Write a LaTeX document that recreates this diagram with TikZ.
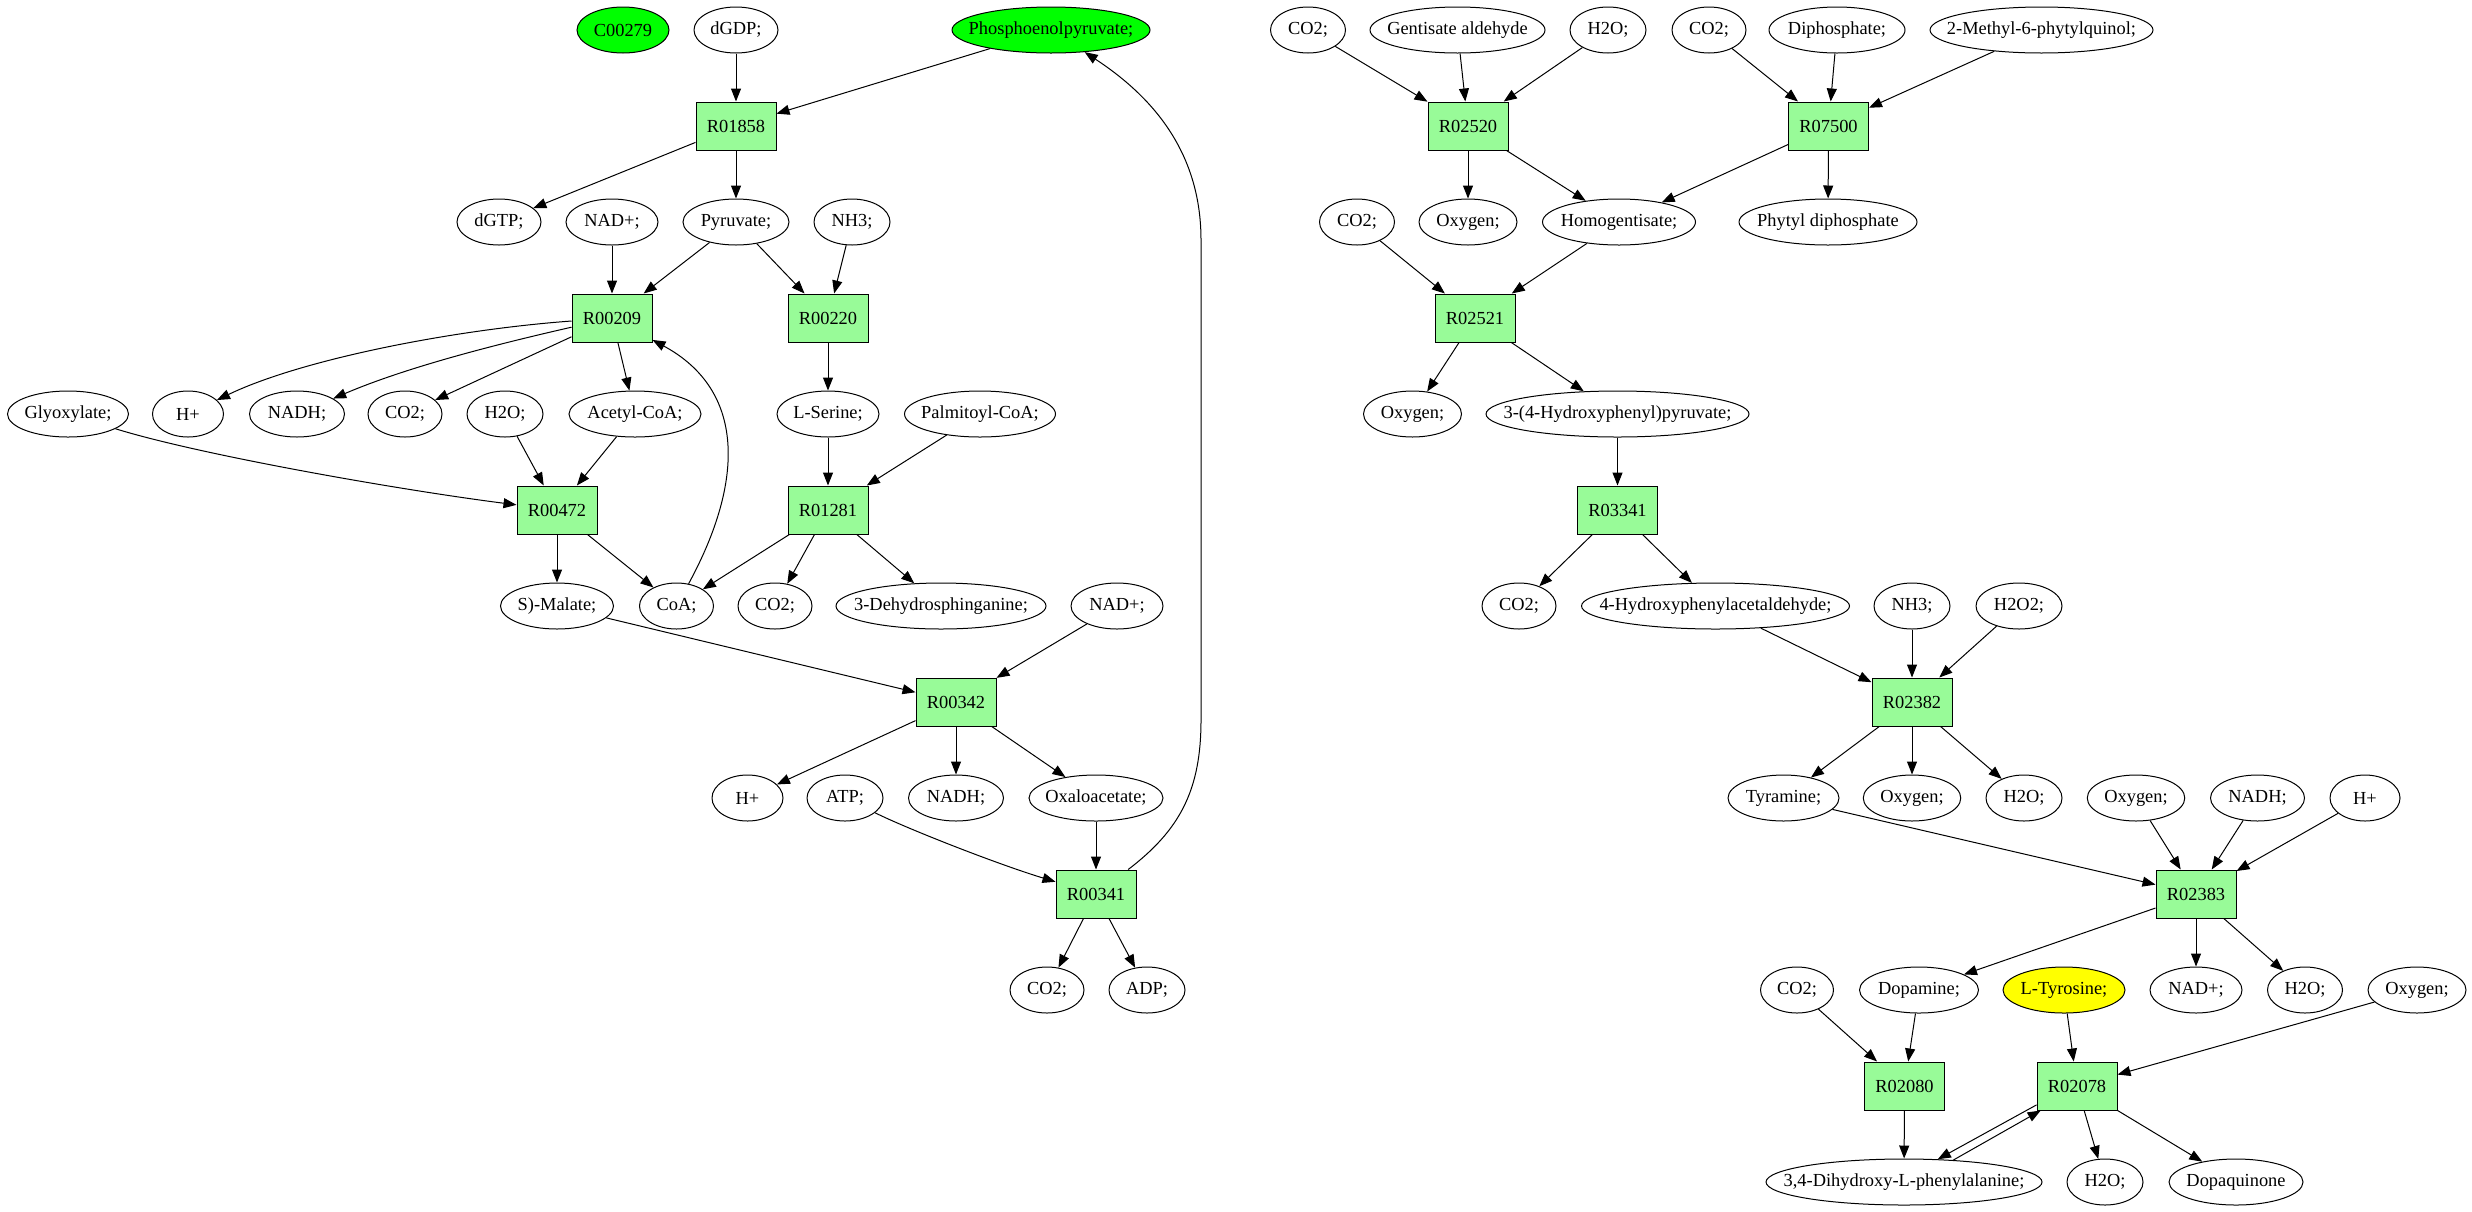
\documentclass[tikz,border=0pt]{standalone}
\usepackage{fontspec}
\setmainfont{Liberation Serif}
\usetikzlibrary{shapes.geometric, arrows.meta}
\definecolor{palegreen}{HTML}{98FB98}
\definecolor{pureg}{HTML}{00FF00}
\definecolor{yel}{HTML}{FFFF00}
\newcommand{\mk}[1]{\makebox[0pt]{#1}}
\begin{document}
\begin{tikzpicture}[x=0.5pt, y=-0.5pt,
  every node/.style={font=\fontsize{9.2pt}{11pt}\selectfont},
  met/.style={ellipse, draw, line width=0.5pt, minimum height=23pt, inner sep=0pt},
  rxn/.style={rectangle, draw, fill=palegreen, line width=0.5pt, minimum width=40pt, minimum height=24pt, inner sep=0pt},
  arr/.style={line width=0.5pt, -{Triangle[length=6.5pt,width=5pt]}}]
\useasboundingbox (0,0) rectangle (2472,1211);
% ---------- left component ----------
\node[met, fill=pureg, minimum width=46pt] (c00279) at (623,30) {\mk{C00279}};
\node[met, minimum width=42pt] (dgdp) at (736,30) {\mk{dGDP;}};
\node[met, fill=pureg, minimum width=99pt] (pep) at (1051,30) {\mk{Phosphoenolpyruvate;}};
\node[rxn] (r01858) at (736,126) {R01858};
\node[met, minimum width=42pt] (dgtp) at (499,222) {\mk{dGTP;}};
\node[met, minimum width=46pt] (nadA) at (612,222) {\mk{NAD+;}};
\node[met, minimum width=53pt] (pyr) at (736,222) {\mk{Pyruvate;}};
\node[met, minimum width=38pt] (nh3A) at (852,222) {\mk{NH3;}};
\node[rxn] (r00209) at (612,318) {R00209};
\node[rxn] (r00220) at (828,318) {R00220};
\node[met, minimum width=60.5pt] (glyox) at (68,414) {\mk{Glyoxylate;}};
\node[met, minimum width=35.5pt] (hA) at (188,414) {\mk{H+}};
\node[met, minimum width=47.5pt] (nadhA) at (297,414) {\mk{NADH;}};
\node[met, minimum width=37pt] (co2A) at (405,414) {\mk{CO2;}};
\node[met, minimum width=38pt] (h2oA) at (505,414) {\mk{H2O;}};
\node[met, minimum width=66pt] (acoa) at (635,414) {\mk{Acetyl-CoA;}};
\node[met, minimum width=51pt] (lser) at (828,414) {\mk{L-Serine;}};
\node[met, minimum width=75.5pt] (palm) at (980,414) {\mk{Palmitoyl-CoA;}};
\node[rxn] (r00472) at (557,510) {R00472};
\node[rxn] (r01281) at (828,510) {R01281};
\node[met, minimum width=56.5pt] (malate) at (557,606) {\mk{S)-Malate;}};
\node[met, minimum width=37pt] (coa) at (676.5,606) {\mk{CoA;}};
\node[met, minimum width=37pt] (co2B) at (775,606) {\mk{CO2;}};
\node[met, minimum width=105pt] (dehyd) at (941,606) {\mk{3-Dehydrosphinganine;}};
\node[met, minimum width=46pt] (nadB) at (1117,606) {\mk{NAD+;}};
\node[rxn] (r00342) at (956,702) {R00342};
\node[met, minimum width=35.5pt] (hB) at (747.5,798) {\mk{H+}};
\node[met, minimum width=38pt] (atp) at (845,798) {\mk{ATP;}};
\node[met, minimum width=47.5pt] (nadhB) at (956,798) {\mk{NADH;}};
\node[met, minimum width=67pt] (oxalo) at (1096,798) {\mk{Oxaloacetate;}};
\node[rxn] (r00341) at (1096,894) {R00341};
\node[met, minimum width=37pt] (co2C) at (1047,990) {\mk{CO2;}};
\node[met, minimum width=38pt] (adp) at (1147,990) {\mk{ADP;}};
% ---------- right component ----------
\node[met, minimum width=37.5pt] (co2D) at (1308,30) {\mk{CO2;}};
\node[met, minimum width=87.5pt] (gent) at (1457.5,30) {\mk{Gentisate aldehyde}};
\node[met, minimum width=38pt] (h2oD) at (1608,30) {\mk{H2O;}};
\node[met, minimum width=37pt] (co2E) at (1709,30) {\mk{CO2;}};
\node[met, minimum width=68pt] (diph) at (1837,30) {\mk{Diphosphate;}};
\node[met, minimum width=111.5pt] (mpq) at (2041.5,30) {\mk{2-Methyl-6-phytylquinol;}};
\node[rxn] (r02520) at (1468,126) {R02520};
\node[rxn] (r07500) at (1828.5,126) {R07500};
\node[met, minimum width=37.5pt] (co2F) at (1357,222) {\mk{CO2;}};
\node[met, minimum width=49pt] (oxyA) at (1468,222) {\mk{Oxygen;}};
\node[met, minimum width=76.5pt] (homog) at (1619,222) {\mk{Homogentisate;}};
\node[met, minimum width=89pt] (phytyl) at (1828,222) {\mk{Phytyl diphosphate}};
\node[rxn] (r02521) at (1475,318) {R02521};
\node[met, minimum width=49pt] (oxyB) at (1412.5,414) {\mk{Oxygen;}};
\node[met, minimum width=131.5pt] (hpp) at (1617.5,414) {\mk{3-(4-Hydroxyphenyl)pyruvate;}};
\node[rxn] (r03341) at (1617.5,510) {R03341};
\node[met, minimum width=37pt] (co2G) at (1519,606) {\mk{CO2;}};
\node[met, minimum width=134pt] (hpaa) at (1715.5,606) {\mk{4-Hydroxyphenylacetaldehyde;}};
\node[met, minimum width=38pt] (nh3B) at (1912,606) {\mk{NH3;}};
\node[met, minimum width=43pt] (h2o2) at (2019,606) {\mk{H2O2;}};
\node[rxn] (r02382) at (1912,702) {R02382};
\node[met, minimum width=55.5pt] (tyr) at (1783.5,798) {\mk{Tyramine;}};
\node[met, minimum width=48.75pt] (oxyC) at (1912,798) {\mk{Oxygen;}};
\node[met, minimum width=38pt] (h2oE) at (2024,798) {\mk{H2O;}};
\node[met, minimum width=48.75pt] (oxyD) at (2136,798) {\mk{Oxygen;}};
\node[met, minimum width=47pt] (nadhC) at (2257.5,798) {\mk{NADH;}};
\node[met, minimum width=35pt] (hC) at (2365,798) {\mk{H+}};
\node[rxn] (r02383) at (2196,894) {R02383};
\node[met, minimum width=36.5pt] (co2H) at (1797,990) {\mk{CO2;}};
\node[met, minimum width=59.5pt] (dopamine) at (1919,990) {\mk{Dopamine;}};
\node[met, fill=yel, minimum width=61pt] (ltyr) at (2064,990) {\mk{L-Tyrosine;}};
\node[met, minimum width=46pt] (nadC) at (2196,990) {\mk{NAD+;}};
\node[met, minimum width=37.5pt] (h2oF) at (2305,990) {\mk{H2O;}};
\node[met, minimum width=49pt] (oxyE) at (2417,990) {\mk{Oxygen;}};
\node[rxn] (r02080) at (1904.5,1086) {R02080};
\node[rxn] (r02078) at (2077,1086) {R02078};
\node[met, minimum width=138pt] (dopa) at (1904,1182) {\mk{3,4-Dihydroxy-L-phenylalanine;}};
\node[met, minimum width=38pt] (h2oG) at (2105,1182) {\mk{H2O;}};
\node[met, minimum width=67pt] (dopaq) at (2236,1182) {\mk{Dopaquinone}};
% ---------- edges, left ----------
\draw[arr] (dgdp) -- (r01858);
\draw[arr] (pep) -- (r01858);
\draw[arr] (r01858) -- (dgtp);
\draw[arr] (r01858) -- (pyr);
\draw[arr] (nadA) -- (r00209);
\draw[arr] (pyr) -- (r00209);
\draw[arr] (pyr) -- (r00220);
\draw[arr] (nh3A) -- (r00220);
\draw[arr] (r00209) .. controls (450,330) and (300,360) .. (hA);
\draw[arr] (r00209) .. controls (480,348) and (400,370) .. (nadhA);
\draw[arr] (r00209) -- (co2A);
\draw[arr] (r00209) -- (acoa);
\draw[arr] (r00220) -- (lser);
\draw[arr] (glyox) .. controls (200,455) and (400,490) .. (r00472);
\draw[arr] (h2oA) -- (r00472);
\draw[arr] (acoa) -- (r00472);
\draw[arr] (lser) -- (r01281);
\draw[arr] (palm) -- (r01281);
\draw[arr] (r00472) -- (malate);
\draw[arr] (r00472) -- (coa);
\draw[arr] (coa) .. controls (745,480) and (745,390) .. (r00209);
\draw[arr] (r01281) -- (coa);
\draw[arr] (r01281) -- (co2B);
\draw[arr] (r01281) -- (dehyd);
\draw[arr] (malate) -- (r00342);
\draw[arr] (nadB) -- (r00342);
\draw[arr] (r00342) -- (hB);
\draw[arr] (r00342) -- (nadhB);
\draw[arr] (r00342) -- (oxalo);
\draw[arr] (atp) .. controls (910,830) and (1000,865) .. (r00341);
\draw[arr] (oxalo) -- (r00341);
\draw[arr] (r00341) -- (co2C);
\draw[arr] (r00341) -- (adp);
\draw[arr] (r00341) .. controls (1180,830) and (1201,790) .. (1201,720) -- (1201,240) .. controls (1201,150) and (1150,95) .. (pep);
% ---------- edges, right ----------
\draw[arr] (co2D) -- (r02520);
\draw[arr] (gent) -- (r02520);
\draw[arr] (h2oD) -- (r02520);
\draw[arr] (co2E) -- (r07500);
\draw[arr] (diph) -- (r07500);
\draw[arr] (mpq) -- (r07500);
\draw[arr] (r02520) -- (oxyA);
\draw[arr] (r02520) -- (homog);
\draw[arr] (r07500) -- (homog);
\draw[arr] (r07500) -- (phytyl);
\draw[arr] (co2F) -- (r02521);
\draw[arr] (homog) -- (r02521);
\draw[arr] (r02521) -- (oxyB);
\draw[arr] (r02521) -- (hpp);
\draw[arr] (hpp) -- (r03341);
\draw[arr] (r03341) -- (co2G);
\draw[arr] (r03341) -- (hpaa);
\draw[arr] (hpaa) -- (r02382);
\draw[arr] (nh3B) -- (r02382);
\draw[arr] (h2o2) -- (r02382);
\draw[arr] (r02382) -- (tyr);
\draw[arr] (r02382) -- (oxyC);
\draw[arr] (r02382) -- (h2oE);
\draw[arr] (tyr) -- (r02383);
\draw[arr] (oxyD) -- (r02383);
\draw[arr] (nadhC) -- (r02383);
\draw[arr] (hC) -- (r02383);
\draw[arr] (r02383) -- (dopamine);
\draw[arr] (r02383) -- (nadC);
\draw[arr] (r02383) -- (h2oF);
\draw[arr] (co2H) -- (r02080);
\draw[arr] (dopamine) -- (r02080);
\draw[arr] (ltyr) -- (r02078);
\draw[arr] (oxyE) -- (r02078);
\draw[arr] (r02080) -- (dopa);
\draw[arr] (r02078.205) -- (dopa.34);
\draw[arr] (dopa.24) -- (r02078.214);
\draw[arr] (r02078) -- (h2oG);
\draw[arr] (r02078) -- (dopaq);
\end{tikzpicture}
\end{document}
